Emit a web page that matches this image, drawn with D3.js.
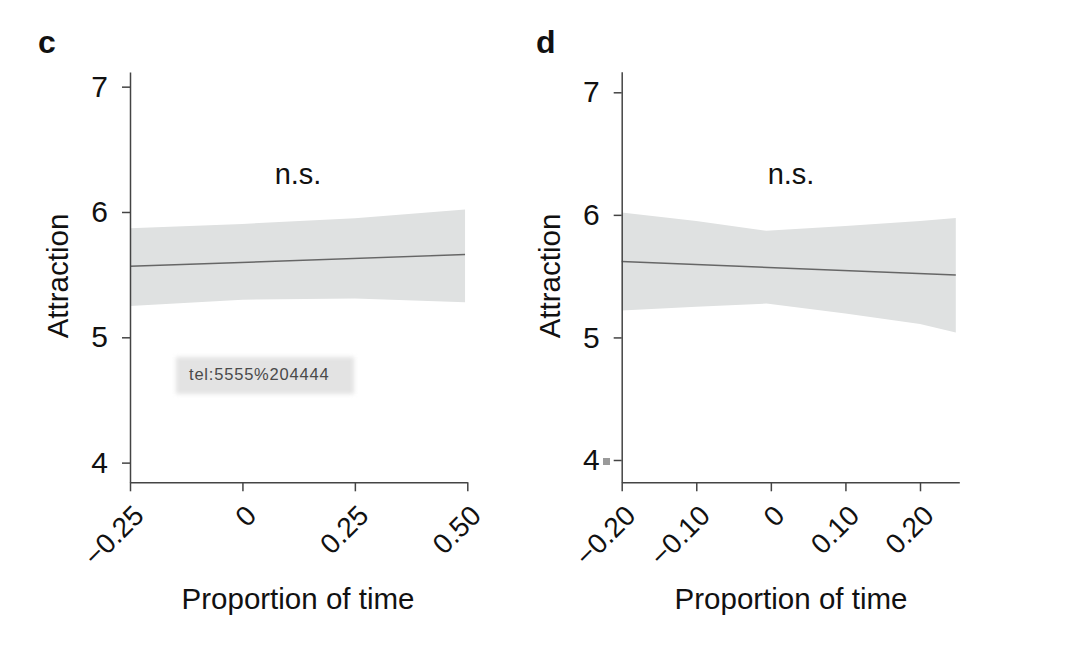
<!DOCTYPE html>
<html>
<head>
<meta charset="utf-8">
<script src="https://cdn.jsdelivr.net/npm/d3@7"></script>
<style>
  body { margin: 0; background: #fff; }
  text { font-family: "Liberation Sans", Arial, sans-serif; fill: #111; }
</style>
</head>
<body>
<div id="chart"></div>
<script>
// panel c
const cBandX = [-0.25, 0, 0.25, 0.495];
const cUpper = [5.87, 5.905, 5.95, 6.02];
const cLower = [5.25, 5.30, 5.31, 5.28];
const cFitX = [-0.25, 0.495];
const cFit = [5.566, 5.66];
const cXTicks = [-0.25, 0, 0.25, 0.5];
const cXLabels = ["\u22120.25", "0", "0.25", "0.50"];

// panel d
const dBandX = [-0.2, -0.1, -0.006, 0.1, 0.2, 0.248];
const dUpper = [6.02, 5.95, 5.87, 5.91, 5.95, 5.975];
const dLower = [5.22, 5.25, 5.276, 5.195, 5.11, 5.04];
const dFitX = [-0.2, 0.248];
const dFit = [5.619, 5.51];
const dXTicks = [-0.2, -0.1, 0, 0.1, 0.2];
const dXLabels = ["\u22120.20", "\u22120.10", "0", "0.10", "0.20"];

const yTicks = [4, 5, 6, 7];

const svg = d3.select("#chart").append("svg")
    .attr("width", 1080)
    .attr("height", 645);

function panel(opt) {
    var x = d3.scaleLinear().domain(opt.xDomain).range(opt.xRange);
    var y = d3.scaleLinear().domain(opt.yDomain).range([482.3, opt.yTop]);
    var g = svg.append("g");

    var band = opt.bandX.map((v, i) => ({x: v, lo: opt.lower[i], hi: opt.upper[i]}));
    g.append("path")
        .datum(band)
        .attr("fill", "#dfe1e1")
        .attr("d", d3.area().x(d => x(d.x)).y0(d => y(d.lo)).y1(d => y(d.hi)));

    g.append("path")
        .datum(opt.fitX.map((v, i) => [v, opt.fit[i]]))
        .attr("fill", "none")
        .attr("stroke", "#666")
        .attr("stroke-width", 1.5)
        .attr("d", d3.line().x(d => x(d[0])).y(d => y(d[1])));

    var yAxis = g.append("g")
        .attr("transform", "translate(" + opt.xRange[0] + ",0)")
        .call(d3.axisLeft(y).tickValues(yTicks).tickFormat(d3.format("d")).tickSize(8).tickSizeOuter(0).tickPadding(14));
    yAxis.selectAll("text").style("font-size", "30px");

    var xAxis = g.append("g")
        .attr("transform", "translate(0,482.3)")
        .call(d3.axisBottom(x).tickValues(opt.xTicks).tickSize(9).tickSizeOuter(0));
    xAxis.selectAll("text")
        .text((d, i) => opt.xLabels[i])
        .attr("x", 0).attr("y", 0).attr("dy", 0)
        .attr("text-anchor", "end")
        .attr("transform", "translate(15,35) rotate(-45)")
        .style("font-size", "28px");

    g.selectAll(".domain, .tick line").attr("stroke", "#444").attr("stroke-width", 1.5);
    g.selectAll(".tick text").attr("fill", "#111");

    g.append("text")
        .attr("transform", "translate(" + (opt.xRange[0] - 62) + ",276) rotate(-90)")
        .attr("text-anchor", "middle")
        .style("font-size", "29.5px")
        .text("Attraction");

    g.append("text")
        .attr("x", opt.titleX).attr("y", 609)
        .attr("text-anchor", "middle")
        .style("font-size", "29.5px")
        .text("Proportion of time");

    g.append("text")
        .attr("x", opt.titleX).attr("y", 184)
        .attr("text-anchor", "middle")
        .style("font-size", "29px")
        .text("n.s.");

    g.append("text")
        .attr("x", opt.letterX).attr("y", 53)
        .style("font-size", "32px")
        .style("font-weight", "900")
        .text(opt.letter);
    return g;
}

panel({letter: "c", letterX: 38, xDomain: [-0.25, 0.5], xRange: [130, 467.3], yDomain: [3.843, 7.117], yTop: 72,
    bandX: cBandX, upper: cUpper, lower: cLower, fitX: cFitX, fit: cFit,
    xTicks: cXTicks, xLabels: cXLabels, titleX: 298});

var gd = panel({letter: "d", letterX: 536, xDomain: [-0.2, 0.2527], xRange: [621.7, 959.3], yDomain: [3.818, 7.168], yTop: 71.7,
    bandX: dBandX, upper: dUpper, lower: dLower, fitX: dFitX, fit: dFit,
    xTicks: dXTicks, xLabels: dXLabels, titleX: 791});

// stray link tooltip in panel c
var tip = svg.append("g");
tip.append("rect")
    .attr("x", 176).attr("y", 357).attr("width", 178).attr("height", 37)
    .attr("fill", "#e3e3e3")
    .style("filter", "blur(2px)");
tip.append("text")
    .attr("x", 189).attr("y", 380)
    .style("font-size", "16.5px")
    .style("letter-spacing", "0.8px")
    .style("fill", "#4a4a4a")
    .text("tel:5555%204444");

// small grey marker next to tick 4 in panel d
gd.append("rect")
    .attr("x", 603).attr("y", 458).attr("width", 7).attr("height", 7)
    .attr("fill", "#9a9a9a");
</script>
</body>
</html>
